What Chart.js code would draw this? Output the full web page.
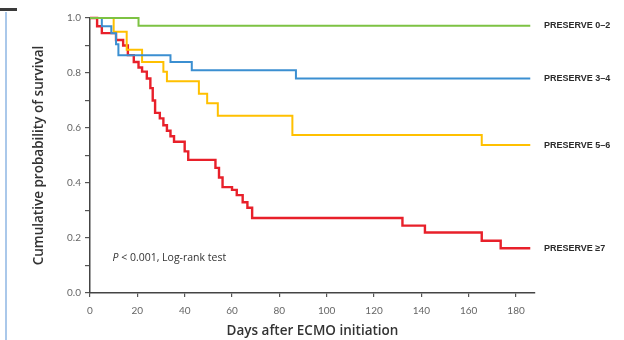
<!DOCTYPE html>
<html>
<head>
<meta charset="utf-8">
<script src="https://cdn.jsdelivr.net/npm/chart.js@4.4.0/dist/chart.umd.min.js"></script>
<style>
    html, body { margin: 0; padding: 0; background: #fff; }
    #wrap { position: relative; width: 624px; height: 340px; overflow: hidden; background: #fff; }
    #frameV { position: absolute; left: 5px; top: 12px; width: 2px; height: 328px; background: #aac8ea; }
    #frameH { position: absolute; left: 0; top: 8px; width: 17px; height: 3px; background: #3a3a3a; }
    canvas { position: absolute; left: 0; top: 0; }
</style>
</head>
<body>
<div id="wrap">
    <canvas id="km-chart" width="624" height="340"></canvas>
    <div id="frameV"></div>
    <div id="frameH"></div>
</div>
<script>
// 各组名称
const groupLabels = ['PRESERVE 0–2', 'PRESERVE 3–4', 'PRESERVE 5–6', 'PRESERVE ≥7'];
const groupColors = ['#7dc243', '#3b8fd1', '#ffc000', '#e8202a'];

// Kaplan-Meier 阶梯点 (天, 生存率)
const daysG02 = [0, 20.5, 186];
const survG02 = [1.0, 0.972, 0.972];

const daysG34 = [0, 5, 9, 11, 12, 34, 43, 87, 186];
const survG34 = [1.0, 0.97, 0.945, 0.905, 0.865, 0.84, 0.81, 0.78, 0.78];

const daysG56 = [0, 10, 15.5, 22, 31, 32.5, 46, 49.5, 54, 85.5, 165.5, 186];
const survG56 = [1.0, 0.95, 0.885, 0.84, 0.805, 0.77, 0.725, 0.69, 0.645, 0.575, 0.538, 0.538];

const daysG7 = [0, 3, 5, 11, 14, 16, 18.5, 20.5, 22, 24, 25.5, 26.5, 27.5, 29.5, 31, 32.5, 34, 35.5,
                40, 41.5, 53, 54.5, 56, 60, 62, 64.5, 66.5, 68.5, 132, 141.5, 165.5, 173.5, 186];
const survG7 = [1.0, 0.97, 0.945, 0.92, 0.90, 0.865, 0.84, 0.82, 0.805, 0.78, 0.745, 0.70, 0.655, 0.635, 0.61, 0.59, 0.57, 0.55,
                0.515, 0.484, 0.455, 0.42, 0.385, 0.375, 0.356, 0.33, 0.31, 0.273, 0.245, 0.22, 0.19, 0.163, 0.163];

// 坐标轴
const xTickValues = [0, 20, 40, 60, 80, 100, 120, 140, 160, 180];
const xMax = 188;
const yTickStep = 0.1;
const pValueText = ['P', ' < 0.001, Log-rank test'];

function toPoints(days, surv) {
    return days.map((d, i) => ({ x: d, y: surv[i] }));
}

const seriesDays = [daysG02, daysG34, daysG56, daysG7];
const seriesSurv = [survG02, survG34, survG56, survG7];

// 右侧组名和 P 值标注
const endLabels = {
    id: 'endLabels',
    afterDatasetsDraw(chart) {
        const { ctx, chartArea, scales } = chart;
        ctx.save();
        ctx.font = 'bold 9px "Liberation Sans"';
        ctx.fillStyle = '#2b2b2b';
        ctx.textBaseline = 'middle';
        ctx.textAlign = 'left';
        chart.data.datasets.forEach(ds => {
            const last = ds.data[ds.data.length - 1];
            ctx.fillText(ds.label, chartArea.right + 9, scales.y.getPixelForValue(last.y));
        });

        const px = scales.x.getPixelForValue(9.5);
        const py = scales.y.getPixelForValue(0.127);
        ctx.font = 'italic 10.5px "Open Sans"';
        ctx.fillStyle = '#333';
        ctx.fillText(pValueText[0], px, py);
        const w = ctx.measureText(pValueText[0]).width;
        ctx.font = '10.5px "Open Sans"';
        ctx.fillText(pValueText[1], px + w, py);
        ctx.restore();
    }
};

function initSurvivalChart() {
    try {
        const ctx = document.getElementById('km-chart');
        if (!ctx) return;

        new Chart(ctx, {
            type: 'line',
            data: {
                datasets: groupLabels.map((label, i) => ({
                    label: label,
                    data: toPoints(seriesDays[i], seriesSurv[i]),
                    borderColor: groupColors[i],
                    borderWidth: i === 3 ? 2.4 : 2,
                    stepped: 'before',
                    pointRadius: 0,
                    fill: false,
                    clip: false
                }))
            },
            options: {
                responsive: false,
                animation: false,
                layout: {
                    padding: { left: 0, top: 18, right: 89, bottom: 0 }
                },
                plugins: {
                    legend: { display: false },
                    tooltip: { enabled: false }
                },
                scales: {
                    x: {
                        type: 'linear',
                        min: 0,
                        max: xMax,
                        afterBuildTicks: scale => {
                            scale.ticks = xTickValues.map(v => ({ value: v }));
                        },
                        afterFit: scale => { scale.height = 47; },
                        ticks: {
                            font: { family: 'Lato', size: 10 },
                            color: '#666',
                            padding: 8,
                            maxRotation: 0,
                            callback: v => String(v)
                        },
                        grid: {
                            drawOnChartArea: false,
                            drawTicks: true,
                            tickLength: 4,
                            color: '#555',
                            lineWidth: 1.2
                        },
                        border: { display: true, color: '#444', width: 1.5 },
                        title: {
                            display: true,
                            text: 'Days after ECMO initiation',
                            font: { family: 'Open Sans', size: 13.5, weight: 600 },
                            color: '#333',
                            padding: { top: 0, bottom: 1 }
                        }
                    },
                    y: {
                        min: 0,
                        max: 1,
                        afterFit: scale => { scale.width = 90; },
                        ticks: {
                            stepSize: yTickStep,
                            font: { family: 'Lato', size: 10 },
                            color: '#666',
                            padding: 4,
                            callback: v => (Math.round(v * 10) % 2 === 0 ? Number(v).toFixed(1) : '')
                        },
                        grid: {
                            drawOnChartArea: false,
                            drawTicks: true,
                            tickLength: 5,
                            color: '#555',
                            lineWidth: 1.2
                        },
                        border: { display: true, color: '#444', width: 1.5 },
                        title: {
                            display: true,
                            text: 'Cumulative probability of survival',
                            font: { family: 'Open Sans', size: 13.5, weight: 600 },
                            color: '#333',
                            padding: { top: 31, bottom: 0 }
                        }
                    }
                }
            },
            plugins: [endLabels]
        });
    } catch (error) {
        console.error('初始化生存曲线图表时出错:', error);
    }
}

initSurvivalChart();
</script>
</body>
</html>
